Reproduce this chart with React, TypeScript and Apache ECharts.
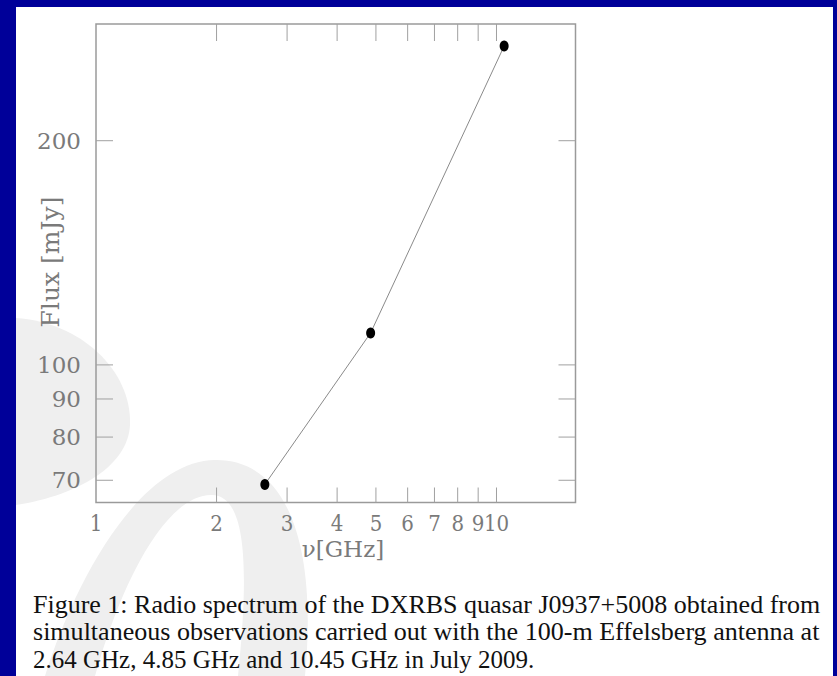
import React, { useEffect, useRef } from 'react';
import * as echarts from 'echarts';

// ---- data ----
const frequencies = [2.64, 4.85, 10.45]; // GHz
const fluxes = [69.1, 110.4, 268]; // mJy
const xTickValues = [2, 3, 4, 5, 6, 7, 8, 9, 10];
const xLabelValues = [1, 2, 3, 4, 5, 6, 7, 8, 9, 10];
const yTickValues = [70, 80, 90, 100, 200];
const X_MIN = 1;
const X_MAX = 15.75;
const Y_MIN = 65.35;
const Y_MAX = 286.9;
const xTitle = '\u03bd[GHz]';
const yTitle = 'Flux [mJy]';
const captionLines = [
  'Figure 1: Radio spectrum of the DXRBS quasar J0937+5008 obtained from',
  'simultaneous observations carried out with the 100-m Effelsberg antenna at',
  '2.64 GHz, 4.85 GHz and 10.45 GHz in July 2009.',
];

const WM_A = 'M 16 318 C 80 322 132 370 130 425 C 128 465 80 495 16 505 Z';
const WM_B =
  'M 45 676 C 75 580 140 461 215 460 C 285 459 318 540 305 676 L 238 676 C 250 560 245 496 212 495 C 170 494 125 570 95 676 Z';

let registered = false;
function registerShapes() {
  if (registered) return;
  echarts.graphic.registerShape('wmA', (echarts.graphic as any).extendPath(WM_A, {}));
  echarts.graphic.registerShape('wmB', (echarts.graphic as any).extendPath(WM_B, {}));
  registered = true;
}

const LABEL_FONT = '"DejaVu Serif", serif';
const XLABEL_FONT = '"DejaVu Serif Condensed", "DejaVu Serif", serif';
const CAPTION_FONT = '"Liberation Serif", "Times New Roman", serif';
const CAPTION_SIZE = 25;
const LABEL_COLOR = '#7a7a7a';

function measure(text: string, size: number, family: string) {
  const c = document.createElement('canvas');
  const ctx = c.getContext('2d');
  if (!ctx) return text.length * size * 0.45;
  ctx.font = `${size}px ${family}`;
  return ctx.measureText(text).width;
}

export default function App() {
  const ref = useRef<HTMLDivElement>(null);

  useEffect(() => {
    if (!ref.current) return;
    registerShapes();
    const chart = echarts.init(ref.current, undefined, { renderer: 'svg' });

    const captionLeft = 33;
    const captionRight = 820;
    const captionMid = [605, 632, 659];
    const captionEls = captionLines.map((line, i) => {
      const natural = measure(line, CAPTION_SIZE, CAPTION_FONT);
      const justify = i < captionLines.length - 1;
      const sx = justify ? (captionRight - captionLeft) / natural : 1;
      return {
        type: 'text',
        x: captionLeft,
        y: captionMid[i],
        scaleX: sx,
        z: 5,
        style: {
          text: line,
          x: 0,
          y: 0,
          fill: '#111111',
          fontSize: CAPTION_SIZE,
          fontFamily: CAPTION_FONT,
          align: 'left',
          textAlign: 'left',
          verticalAlign: 'middle',
          textVerticalAlign: 'middle',
        },
      };
    });

    const option: any = {
      animation: false,
      backgroundColor: '#000099',
      grid: {
        left: 96,
        top: 24,
        width: 479.5,
        height: 478.5,
        show: true,
        borderColor: '#9a9a9a',
        borderWidth: 1.5,
        backgroundColor: 'transparent',
        z: 1,
      },
      xAxis: {
        type: 'log',
        logBase: 10,
        min: X_MIN,
        max: X_MAX,
        axisLine: { show: false },
        axisTick: { show: false },
        axisLabel: { show: false },
        splitLine: { show: false },
      },
      yAxis: {
        type: 'log',
        logBase: 10,
        min: Y_MIN,
        max: Y_MAX,
        axisLine: { show: false },
        axisTick: { show: false },
        axisLabel: { show: false },
        splitLine: { show: false },
      },
      graphic: [
        {
          type: 'rect',
          z: -10,
          shape: { x: 16, y: 7, width: 817, height: 669 },
          style: { fill: '#ffffff' },
        },
        { type: 'wmA', x: 0, y: 0, z: -9, style: { fill: '#efefef' } },
        { type: 'wmB', x: 0, y: 0, z: -9, style: { fill: '#efefef' } },
        {
          type: 'text',
          x: 343,
          y: 549,
          z: 5,
          style: {
            text: xTitle,
            fill: LABEL_COLOR,
            fontSize: 23,
            fontFamily: LABEL_FONT,
            align: 'center',
            textAlign: 'center',
            verticalAlign: 'middle',
            textVerticalAlign: 'middle',
          },
        },
        {
          type: 'text',
          x: 50,
          y: 262,
          rotation: Math.PI / 2,
          z: 5,
          style: {
            text: yTitle,
            fill: LABEL_COLOR,
            fontSize: 25,
            fontFamily: LABEL_FONT,
            align: 'center',
            textAlign: 'center',
            verticalAlign: 'middle',
            textVerticalAlign: 'middle',
          },
        },
        ...captionEls,
      ],
      series: [
        {
          type: 'custom',
          coordinateSystem: 'cartesian2d',
          clip: false,
          silent: true,
          z: 2,
          data: [[X_MIN, Y_MIN]],
          renderItem: (_params: any, api: any) => {
            const children: any[] = [];
            const [xLeft, yBottom] = api.coord([X_MIN, Y_MIN]);
            const [xRight, yTop] = api.coord([X_MAX, Y_MAX]);
            const tickStyle = { stroke: '#a0a0a0', lineWidth: 1 };
            xTickValues.forEach((v) => {
              const [x] = api.coord([v, Y_MIN]);
              children.push({ type: 'line', shape: { x1: x, y1: yBottom, x2: x, y2: yBottom - 15 }, style: tickStyle });
              children.push({ type: 'line', shape: { x1: x, y1: yTop, x2: x, y2: yTop + 17 }, style: tickStyle });
            });
            xLabelValues.forEach((v) => {
              const [x] = api.coord([v, Y_MIN]);
              children.push({
                type: 'text',
                style: {
                  text: String(v),
                  x,
                  y: yBottom + 21,
                  fill: LABEL_COLOR,
                  fontSize: 22,
                  fontFamily: XLABEL_FONT,
                  align: 'center',
                  textAlign: 'center',
                  verticalAlign: 'middle',
                  textVerticalAlign: 'middle',
                },
              });
            });
            yTickValues.forEach((v) => {
              const [, y] = api.coord([X_MIN, v]);
              children.push({ type: 'line', shape: { x1: xLeft, y1: y, x2: xLeft + 17, y2: y }, style: tickStyle });
              children.push({ type: 'line', shape: { x1: xRight, y1: y, x2: xRight - 17, y2: y }, style: tickStyle });
              children.push({
                type: 'text',
                style: {
                  text: String(v),
                  x: xLeft - 15,
                  y,
                  fill: LABEL_COLOR,
                  fontSize: 23,
                  fontFamily: LABEL_FONT,
                  align: 'right',
                  textAlign: 'right',
                  verticalAlign: 'middle',
                  textVerticalAlign: 'middle',
                },
              });
            });
            return { type: 'group', children };
          },
        },
        {
          type: 'line',
          z: 3,
          data: frequencies.map((f, i) => [f, fluxes[i]]),
          symbol: 'circle',
          symbolSize: [9, 11],
          itemStyle: { color: '#000000' },
          lineStyle: { color: '#8a8a8a', width: 1 },
        },
      ],
    };

    chart.setOption(option);
    return () => {
      chart.dispose();
    };
  }, []);

  return (
    <div
      ref={ref}
      style={{ position: 'absolute', left: 0, top: 0, width: 837, height: 676 }}
    />
  );
}
